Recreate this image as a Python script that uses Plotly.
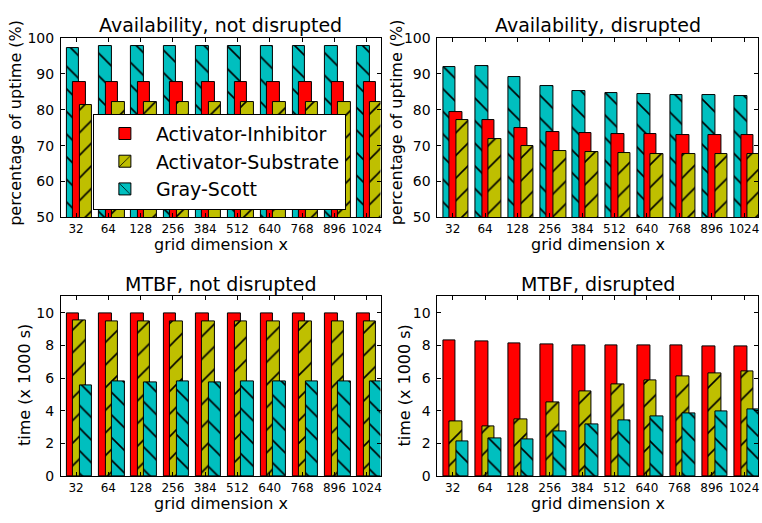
import plotly.graph_objects as go

# Grid dimensions on the x axis
grid_dims = ["32", "64", "128", "256", "384", "512", "640", "768", "896", "1024"]

# Availability (% uptime), not disrupted
avail_nd_inhibitor = [87.6, 87.6, 87.6, 87.6, 87.6, 87.6, 87.6, 87.6, 87.6, 87.6]
avail_nd_substrate = [81.4, 82.2, 82.2, 82.2, 82.2, 82.2, 82.2, 82.2, 82.2, 82.1]
avail_nd_grayscott = [97.3, 97.8, 97.8, 97.8, 97.8, 97.8, 97.8, 97.8, 97.8, 97.8]

# Availability (% uptime), disrupted
avail_d_inhibitor = [79.4, 77.2, 74.9, 73.8, 73.5, 73.2, 73.2, 73.0, 72.9, 72.9]
avail_d_substrate = [77.2, 71.9, 69.9, 68.6, 68.2, 68.0, 67.7, 67.7, 67.7, 67.6]
avail_d_grayscott = [91.8, 92.1, 89.0, 86.5, 85.3, 84.7, 84.4, 84.2, 84.0, 83.9]

# MTBF (x 1000 s), not disrupted
mtbf_nd_inhibitor = [9.97, 9.97, 9.97, 9.97, 9.97, 9.97, 9.97, 9.97, 9.97, 9.97]
mtbf_nd_substrate = [9.54, 9.50, 9.50, 9.50, 9.50, 9.50, 9.50, 9.50, 9.50, 9.50]
mtbf_nd_grayscott = [5.53, 5.79, 5.73, 5.79, 5.75, 5.79, 5.81, 5.81, 5.81, 5.83]

# MTBF (x 1000 s), disrupted
mtbf_d_inhibitor = [8.33, 8.27, 8.11, 8.05, 8.01, 8.01, 7.99, 7.99, 7.97, 7.97]
mtbf_d_substrate = [3.34, 3.02, 3.48, 4.53, 5.17, 5.59, 5.88, 6.12, 6.30, 6.42]
mtbf_d_grayscott = [2.15, 2.33, 2.25, 2.74, 3.14, 3.42, 3.64, 3.82, 3.94, 4.08]

W, H = 762, 523
FONT = "DejaVu Sans"
RED, YELLOW, CYAN = "#ff0000", "#bfbf00", "#00bfbf"
BAR_W = 0.39
STEP = 0.2
pos = list(range(len(grid_dims)))


def px_x(p):
    return p / W


def px_y(p):
    return 1 - p / H


# Panel boxes in pixels: (left, right, top, bottom)
panels = [
    dict(box=(61, 381, 31, 216), title="Availability, not disrupted",
         ylabel="percentage of uptime (%)", yr=[50, 100], yt=[50, 60, 70, 80, 90, 100],
         order=[("Gray-Scott", avail_nd_grayscott), ("Activator-Inhibitor", avail_nd_inhibitor),
                ("Activator-Substrate", avail_nd_substrate)],
         ylab_x=15.5, ylab_y=118, legend=True),
    dict(box=(438, 759, 31, 216), title="Availability, disrupted",
         ylabel="percentage of uptime (%)", yr=[50, 100], yt=[50, 60, 70, 80, 90, 100],
         order=[("Gray-Scott", avail_d_grayscott), ("Activator-Inhibitor", avail_d_inhibitor),
                ("Activator-Substrate", avail_d_substrate)],
         ylab_x=396.5, ylab_y=118, legend=False),
    dict(box=(61, 381, 297.5, 483), title="MTBF, not disrupted",
         ylabel="time (x 1000 s)", yr=[0, 11], yt=[0, 2, 4, 6, 8, 10],
         order=[("Activator-Inhibitor", mtbf_nd_inhibitor), ("Activator-Substrate", mtbf_nd_substrate),
                ("Gray-Scott", mtbf_nd_grayscott)],
         ylab_x=24, ylab_y=389, legend=False),
    dict(box=(438, 759, 297.5, 483), title="MTBF, disrupted",
         ylabel="time (x 1000 s)", yr=[0, 11], yt=[0, 2, 4, 6, 8, 10],
         order=[("Activator-Inhibitor", mtbf_d_inhibitor), ("Activator-Substrate", mtbf_d_substrate),
                ("Gray-Scott", mtbf_d_grayscott)],
         ylab_x=405, ylab_y=389, legend=False),
]

styles = {
    "Activator-Inhibitor": dict(color=RED, pattern=dict(shape=""), rank=1),
    "Activator-Substrate": dict(color=YELLOW, pattern=dict(shape="/", fgcolor="black", bgcolor=YELLOW,
                                                            size=16, solidity=0.1, fillmode="replace"), rank=2),
    "Gray-Scott": dict(color=CYAN, pattern=dict(shape="\\", fgcolor="black", bgcolor=CYAN,
                                                 size=16, solidity=0.1, fillmode="replace"), rank=3),
}

fig = go.Figure()
annotations = []
layout = {}

for i, p in enumerate(panels):
    n = "" if i == 0 else str(i + 1)
    xa, ya = "x" + n, "y" + n
    l, r, t, b = p["box"]
    for k, (name, vals) in enumerate(p["order"]):
        st = styles[name]
        fig.add_trace(go.Bar(
            x=pos, y=vals, xaxis=xa, yaxis=ya, name=name,
            width=BAR_W, offset=-0.29 + k * STEP,
            marker=dict(color=st["color"], pattern=st["pattern"],
                        line=dict(color="black", width=1)),
            showlegend=p["legend"], legendrank=st["rank"],
        ))
    layout["xaxis" + n] = dict(
        domain=[px_x(l), px_x(r)], anchor=ya, range=[-0.47, 9.43],
        tickvals=pos, ticktext=grid_dims, ticks="inside", ticklen=4, tickcolor="black",
        showline=True, linecolor="black", linewidth=1, mirror="ticks",
        showgrid=False, zeroline=False, tickfont=dict(family=FONT, size=12, color="black"),
    )
    layout["yaxis" + n] = dict(
        domain=[px_y(b), px_y(t)], anchor=xa, range=p["yr"], tickvals=p["yt"],
        ticks="inside", ticklen=4, tickcolor="black",
        showline=True, linecolor="black", linewidth=1, mirror="ticks",
        showgrid=False, zeroline=False, tickfont=dict(family=FONT, size=14, color="black"),
        ticklabelstandoff=3,
    )
    cx = (l + r) / 2
    annotations.append(dict(text=p["title"], x=px_x(cx), y=px_y(t - 13), xref="paper", yref="paper",
                            xanchor="center", yanchor="middle", showarrow=False,
                            font=dict(family=FONT, size=19, color="black")))
    annotations.append(dict(text="grid dimension x", x=px_x(cx), y=px_y(b + 28), xref="paper", yref="paper",
                            xanchor="center", yanchor="middle", showarrow=False,
                            font=dict(family=FONT, size=16, color="black")))
    annotations.append(dict(text=p["ylabel"], x=px_x(p["ylab_x"]), y=px_y(p["ylab_y"]), xref="paper",
                            yref="paper", xanchor="center", yanchor="middle", showarrow=False, textangle=-90,
                            font=dict(family=FONT, size=16, color="black")))

fig.update_layout(
    width=W, height=H, margin=dict(l=0, r=0, t=0, b=0),
    paper_bgcolor="white", plot_bgcolor="white",
    barmode="overlay", bargap=0,
    font=dict(family=FONT, color="black"),
    annotations=annotations,
    legend=dict(x=px_x(93), y=px_y(109), xanchor="left", yanchor="top",
                bgcolor="white", bordercolor="black", borderwidth=1,
                font=dict(family=FONT, size=19, color="black"),
                itemwidth=52, tracegroupgap=0),
    **layout,
)

fig.write_html("out.html")
